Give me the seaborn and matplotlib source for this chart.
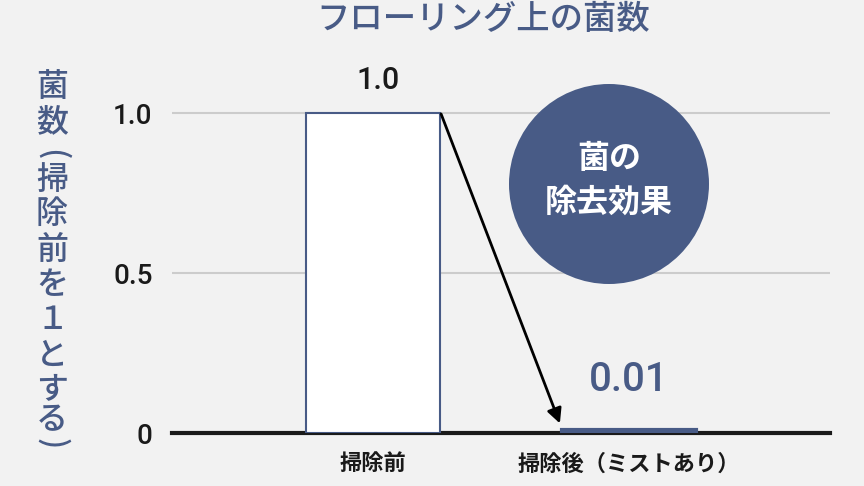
import matplotlib
matplotlib.use("Agg")
import matplotlib.pyplot as plt
import seaborn as sns
from matplotlib.patches import Circle

categories = ["掃除前", "掃除後（ミストあり）"]
values = [1.0, 0.01]
value_labels = ["1.0", "0.01"]
yticks = [0, 0.5, 1.0]
ytick_labels = ["0", "0.5", "1.0"]
title = "フローリング上の菌数"
ylabel_chars = ["菌", "数", "(", "掃", "除", "前", "を", "１", "と", "す", "る", ")"]
badge_text = "菌の\n除去効果"

blue = "#485b86"
bg = "#f2f2f2"

sns.set_theme(style="white")
plt.rcParams["font.family"] = ["Noto Sans CJK JP", "DejaVu Sans"]

fig = plt.figure(figsize=(8.64, 4.86), dpi=100, facecolor=bg)
ax = fig.add_axes([172 / 864, 53 / 486, 658 / 864, 384 / 486])
ax.set_facecolor(bg)

sns.barplot(x=categories, y=values, hue=categories, palette=["white", blue],
            width=0.52, legend=False, ax=ax, zorder=3)
for p, fc in zip(ax.patches, ["white", blue]):
    p.set_facecolor(fc)
    p.set_edgecolor(blue)
    p.set_linewidth(1.5 if fc == "white" else 3)
    p.set_zorder(3)

ax.set_xlim(-0.785, 1.785)
ax.set_ylim(0, 1.2)
ax.set_yticks(yticks)
ax.set_yticklabels(ytick_labels)
ax.yaxis.grid(True, color="#cccccc", lw=1.5, zorder=0)
ax.set_axisbelow(True)
for s in ["top", "right", "left"]:
    ax.spines[s].set_visible(False)
ax.spines["bottom"].set_color("#1a1a1a")
ax.spines["bottom"].set_linewidth(3)
ax.spines["bottom"].set_zorder(2)
ax.tick_params(axis="y", length=0, pad=14, labelsize=20, labelcolor="#1a1a1a")
ax.tick_params(axis="x", length=0, pad=14, labelsize=16, labelcolor="#1a1a1a")
for t in ax.get_yticklabels():
    t.set_family(["Roboto", "DejaVu Sans"])
    t.set_weight("medium")
for t in ax.get_xticklabels():
    t.set_weight("bold")
ax.set_xlabel("")
ax.set_ylabel("")

# value labels
ax.text(0.02, 1.103, value_labels[0], ha="center", va="center", fontsize=22,
        color="#1a1a1a", family=["Roboto", "DejaVu Sans"], weight="medium")
ax.text(1, 0.166, value_labels[1], ha="center", va="center", fontsize=29,
        color=blue, family=["Roboto", "DejaVu Sans"], weight="medium")

# arrow
ax.annotate("", xy=(0.73, 0.03), xytext=(0.266, 0.997),
            arrowprops=dict(arrowstyle="-|>", color="black", lw=2,
                            mutation_scale=22, shrinkA=0, shrinkB=0),
            zorder=5)

# badge circle
circ = Circle((6.09, 4.86 - 1.84), 1.0, transform=fig.dpi_scale_trans,
              facecolor=blue, edgecolor="none", zorder=6, clip_on=False)
ax.add_patch(circ)
fig.text(609 / 864, 1 - 181 / 486, badge_text, ha="center", va="center",
         fontsize=23, color="white", weight="bold", linespacing=1.45, zorder=7)

# title
fig.text(483 / 864, 1 - 20 / 486, title, ha="center", va="center",
         fontsize=24, color=blue, weight="medium")

# vertical y label, one character per line
ycenters = [87, 122, 155, 180, 214, 250, 285, 320, 356, 389, 420, 444]
for ch, yc in zip(ylabel_chars, ycenters):
    rot = -90 if ch in "()" else 0
    fig.text(52 / 864, 1 - yc / 486, ch, ha="center", va="center",
             fontsize=23, color=blue, weight="medium", rotation=rot)

fig.savefig("out.png", dpi=100, facecolor=bg)
